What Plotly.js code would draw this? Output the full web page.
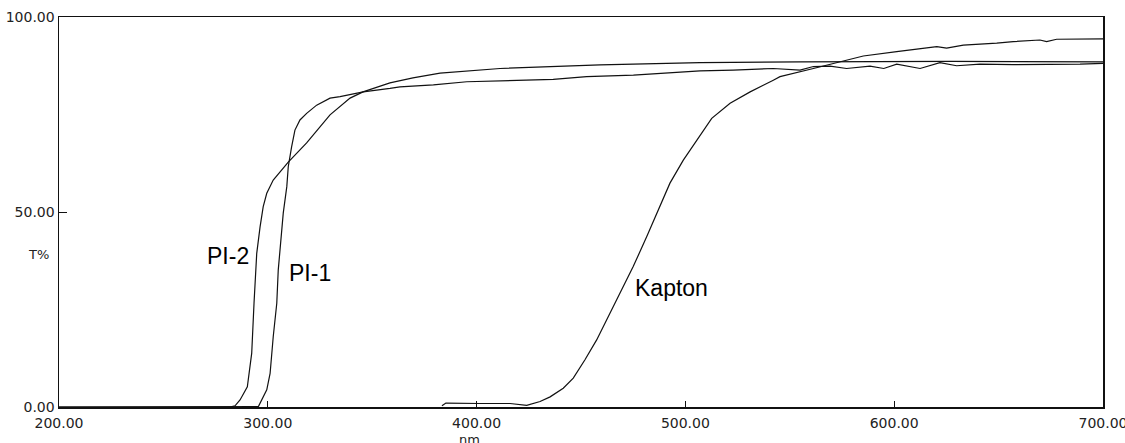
<!DOCTYPE html>
<html>
<head>
<meta charset="utf-8">
<script src="https://cdn.plot.ly/plotly-3.0.1.min.js"></script>
<style>html,body{margin:0;padding:0;background:#fff;}#chart{width:1125px;height:443px;}</style>
</head>
<body>
<div id="chart"></div>
<script>
// Wavelength (nm) and transmittance (T%)
const pi2Wavelength = [200, 281.9, 284.3, 286.7, 290.2, 292.3, 293.4, 294.7, 296.3, 297.8, 299.5, 302.6, 309.8, 318.6, 329.8, 339.4, 345.6, 358.5, 369.5, 382.5, 411.2, 459.1, 507.0, 554.9, 626.7, 700];
const pi2T =          [0, 0, 0.3, 1.8, 5.2, 13.8, 26.6, 39.4, 46.2, 51.4, 54.8, 58.2, 62.8, 67.7, 74.9, 79.2, 80.8, 83.1, 84.4, 85.6, 86.8, 87.7, 88.3, 88.5, 88.6, 88.5];

const pi1Wavelength = [200, 294.5, 295.5, 299.5, 301.1, 302.6, 304.3, 305.0, 306.7, 307.4, 309.1, 309.8, 311.4, 313.0, 315.4, 318.6, 323.4, 329.8, 334.6, 345.7, 358.5, 363.3, 379.3, 395.3, 436.7, 452.7, 475.1, 491.0, 507.0, 522.9, 542.1, 554.9, 561.3, 569.3, 577.2, 588.4, 595.0, 601.2, 612.4, 621.9, 629.9, 641.1, 657.0, 689.0, 700];
const pi1T =          [0, 0, 0.1, 4.4, 8.6, 18.0, 26.6, 35.1, 44.5, 49.7, 56.5, 61.6, 66.7, 71.0, 73.6, 75.3, 77.4, 79.2, 79.6, 80.8, 81.7, 82.1, 82.6, 83.4, 84.0, 84.7, 85.1, 85.7, 86.2, 86.4, 86.8, 86.4, 87.3, 87.4, 86.8, 87.4, 86.8, 87.9, 86.8, 88.3, 87.5, 87.9, 87.8, 87.9, 88.1];

const kaptonWavelength = [383.4, 385.3, 401.6, 416.0, 424.0, 430.4, 435.2, 441.5, 446.3, 451.9, 457.5, 462.3, 468.7, 475.0, 481.5, 487.9, 492.6, 499.0, 505.4, 512.6, 521.4, 531.0, 542.1, 545.3, 561.3, 574.0, 585.2, 601.2, 620.4, 625.1, 633.1, 649.1, 657.0, 669.8, 673.0, 677.8, 700];
const kaptonT =          [0.3, 1.0, 0.9, 0.9, 0.4, 1.4, 2.6, 4.8, 7.4, 12.1, 17.2, 22.3, 29.2, 36.0, 43.7, 51.4, 57.4, 63.3, 68.5, 74.0, 77.9, 80.8, 83.8, 84.7, 86.8, 88.5, 90.0, 91.1, 92.4, 92.0, 92.8, 93.3, 93.7, 94.1, 93.7, 94.3, 94.4];

const xTicks = [200, 300, 400, 500, 600, 700];
const yTicks = [0, 50, 100];

const curveNames = ['PI-2', 'PI-1', 'Kapton'];
const labelX = [269.9, 309.2, 474.9];
const labelY = [38.6, 34.3, 30.4];

const lineStyle = {color: '#111', width: 1.2, shape: 'linear'};
const traces = [
  {x: pi2Wavelength, y: pi2T, name: curveNames[0], mode: 'lines', line: lineStyle},
  {x: pi1Wavelength, y: pi1T, name: curveNames[1], mode: 'lines', line: lineStyle},
  {x: kaptonWavelength, y: kaptonT, name: curveNames[2], mode: 'lines', line: lineStyle}
];

const tickFont = {family: 'DejaVu Sans', size: 14, color: '#222'};
const annotations = curveNames.map((n, i) => ({
  x: labelX[i], y: labelY[i], xref: 'x', yref: 'y', text: n, showarrow: false,
  xanchor: 'left', yanchor: 'middle',
  font: {family: 'Liberation Sans, Arial', size: 23, color: '#000'}
}));
annotations.push({x: -0.0192, y: 39, xref: 'paper', yref: 'y', text: 'T%', showarrow: false,
  xanchor: 'center', yanchor: 'middle', font: {family: 'DejaVu Sans', size: 13, color: '#222'}});
annotations.push({x: 396.4, y: -0.059, xref: 'x', yref: 'paper', text: 'nm', showarrow: false,
  xanchor: 'center', yanchor: 'top', font: {family: 'DejaVu Sans', size: 13, color: '#222'}});

const layout = {
  width: 1125, height: 443,
  margin: {l: 59, r: 22, t: 17, b: 36, pad: 0},
  paper_bgcolor: '#fff', plot_bgcolor: '#fff',
  showlegend: false,
  xaxis: {
    range: [200, 700], tickvals: xTicks, tickformat: '.2f',
    showgrid: false, zeroline: false,
    showline: true, mirror: true, linecolor: '#111', linewidth: 1.5,
    ticks: 'inside', ticklen: 6, tickcolor: '#111', tickwidth: 1,
    ticklabeloverflow: 'allow', ticklabelstandoff: 3,
    tickfont: tickFont
  },
  yaxis: {
    range: [0, 100], tickvals: yTicks, tickformat: '.2f',
    showgrid: false, zeroline: false,
    showline: true, mirror: true, linecolor: '#111', linewidth: 1.5,
    ticks: 'inside', ticklen: 8, tickcolor: '#111', tickwidth: 1,
    ticklabeloverflow: 'allow',
    tickfont: tickFont
  },
  annotations: annotations
};

Plotly.newPlot('chart', traces, layout, {displayModeBar: false, staticPlot: true});
</script>
</body>
</html>
